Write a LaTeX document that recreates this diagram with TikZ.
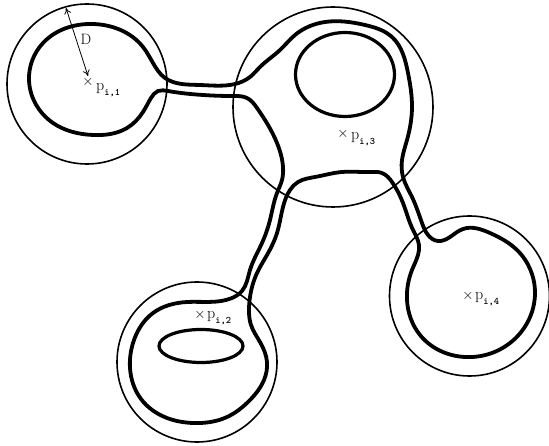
\documentclass[tikz,border=0pt]{standalone}
\usetikzlibrary{arrows.meta,hobby}
\tikzset{
  thincirc/.style={draw=black,line width=1.6pt},
  thickline/.style={draw=black,line width=3.8pt,line join=round},
  innerline/.style={draw=black,line width=3.2pt},
  crossmark/.style={inner sep=0pt,font=\fontsize{15}{15}\selectfont},
  plabel/.style={inner sep=0pt,anchor=base west,font=\fontsize{16}{16}\selectfont},
}
\newcommand{\plab}[1]{p\raisebox{-4.5pt}{\fontsize{10}{10}\ttfamily\bfseries i,#1}}
\begin{document}
\begin{tikzpicture}[x=1pt,y=-1pt,use Hobby shortcut]
\useasboundingbox (0,0) rectangle (549,446);
% influence circles
\draw[thincirc] (87,84) circle [radius=80];
\draw[thincirc] (333,107) circle [radius=100];
\draw[thincirc] (197,362) circle [radius=80];
\draw[thincirc] (469.5,296) circle [radius=80];
% boundary
\draw[thickline,closed=true]
 (173,82) .. (165,78) .. (153,63) .. (143,47) .. (93,24) .. (43,43) .. (29,80) .. (53,123)
 .. (93,135) .. (127,128) .. (143,112) .. (151,98) .. (158,91) .. (168,91) .. (203,95) .. (233,96)
 .. (247,98) .. (257,108) .. (277,143) .. (283,167) .. (282,180) .. (277,193) .. (270,220) .. (262,243)
 .. (250,270) .. (242,291) .. (232,298) .. (187,302) .. (153,313) .. (133,343) .. (130,368) .. (141,399) .. (167,418)
 .. (193,423) .. (227,417) .. (250,400) .. (264,380) .. (267,362) .. (260,342) .. (251,325) .. (249,312) .. (250,297) .. (257,273)
 .. (267,255) .. (277,233) .. (283,207) .. (290,190) .. (298,182) .. (315,177) .. (342,172) .. (370,172) .. (382,173) .. (392,182) .. (403,203)
 .. (413,230) .. (419,245) .. (418,255) .. (412,270) .. (407,300) .. (420,335) .. (465,357) .. (510,343) .. (535,293) .. (517,250)
 .. (490,233) .. (463,229) .. (450,237) .. (438,241) .. (428,235) .. (422,223) .. (412,197) .. (403,177) .. (402,160) .. (407,140)
 .. (412,107) .. (408,73) .. (392,37) .. (365,25) .. (325,22) .. (295,35) .. (280,50) .. (260,67) .. (250,77) .. (235,84) .. (200,85);
% holes
\draw[innerline] (345,74.5) ellipse [x radius=49.5,y radius=42];
\draw[innerline] (201,346) ellipse [x radius=42,y radius=16.5];
% radius arrow
\coordinate (dtop) at (66,8);
\coordinate (dbot) at (88,76);
\draw[line width=0.8pt,{To[length=6pt,width=7pt]}-{To[length=6pt,width=7pt]}] (dtop) -- (dbot);
\node[inner sep=0pt,font=\fontsize{15}{15}\selectfont] (dlab) at (86,39) {D};
% labels
\node[crossmark] (x1) at (88,82) {$\times$};
\node[plabel] (l1) at (96,91) {\plab{1}};
\node[crossmark] (x3) at (343,134) {$\times$};
\node[plabel] (l3) at (351,140) {\plab{3}};
\node[crossmark] (x2) at (200,315) {$\times$};
\node[plabel] (l2) at (207,319) {\plab{2}};
\node[crossmark] (x4) at (468,296) {$\times$};
\node[plabel] (l4) at (475,300) {\plab{4}};
\end{tikzpicture}
\end{document}
